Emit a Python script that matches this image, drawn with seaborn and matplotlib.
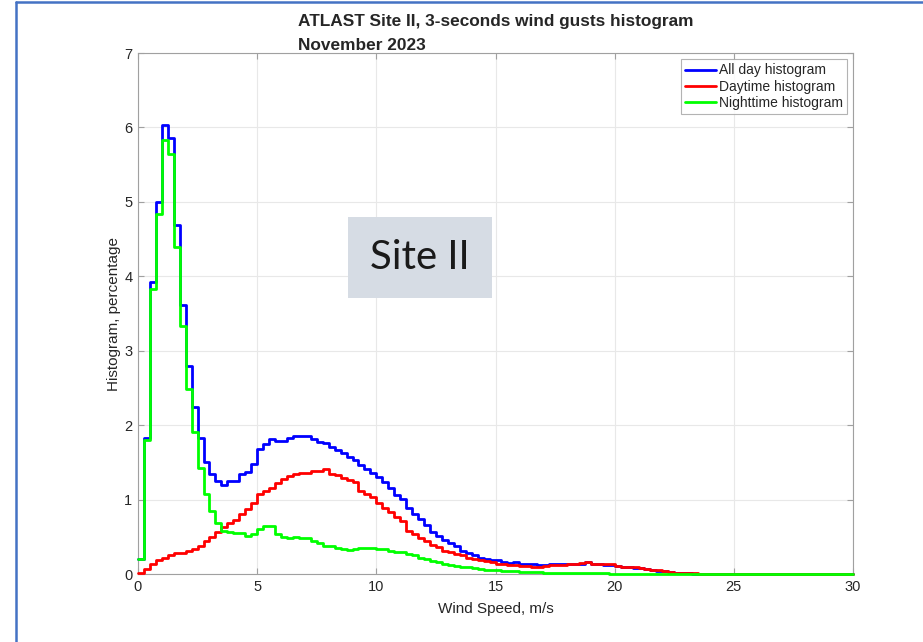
import numpy as np
import pandas as pd
import seaborn as sns
import matplotlib.pyplot as plt
from matplotlib.lines import Line2D

# histogram values in percent, 0.25 m/s bins from 0 to 30 m/s
all_day = [
    0.20, 1.83, 3.92, 5.00, 6.03, 5.86, 4.69, 3.61, 2.79, 2.25,
    1.83, 1.50, 1.35, 1.25, 1.19, 1.25, 1.25, 1.35, 1.37, 1.48,
    1.68, 1.75, 1.82, 1.79, 1.79, 1.83, 1.86, 1.86, 1.85, 1.82,
    1.78, 1.76, 1.71, 1.66, 1.62, 1.57, 1.53, 1.47, 1.41, 1.36,
    1.30, 1.23, 1.16, 1.06, 1.01, 0.89, 0.81, 0.74, 0.66, 0.57,
    0.51, 0.46, 0.41, 0.37, 0.31, 0.28, 0.25, 0.22, 0.20, 0.19,
    0.19, 0.16, 0.15, 0.16, 0.14, 0.13, 0.13, 0.12, 0.12, 0.13,
    0.13, 0.13, 0.13, 0.13, 0.14, 0.155, 0.135, 0.135, 0.125, 0.125,
    0.105, 0.095, 0.095, 0.085, 0.075, 0.065, 0.055, 0.045, 0.035, 0.025,
    0.015, 0.011, 0.007, 0.005, 0.004, 0.003, 0.002, 0.002, 0.001, 0.001,
    0.001, 0.001, 0.0, 0.0, 0.0, 0.0, 0.0, 0.0, 0.0, 0.0,
    0.0, 0.0, 0.0, 0.0, 0.0, 0.0, 0.0, 0.0, 0.0, 0.0,
]
daytime = [
    0.01, 0.07, 0.13, 0.19, 0.22, 0.25, 0.28, 0.28, 0.31, 0.34,
    0.38, 0.44, 0.50, 0.57, 0.63, 0.69, 0.72, 0.80, 0.87, 0.96,
    1.07, 1.11, 1.16, 1.22, 1.27, 1.32, 1.35, 1.36, 1.36, 1.38,
    1.39, 1.41, 1.35, 1.33, 1.29, 1.26, 1.23, 1.12, 1.07, 1.03,
    0.96, 0.89, 0.83, 0.76, 0.71, 0.58, 0.54, 0.49, 0.44, 0.39,
    0.36, 0.31, 0.29, 0.27, 0.25, 0.22, 0.20, 0.19, 0.17, 0.16,
    0.14, 0.13, 0.12, 0.12, 0.11, 0.11, 0.10, 0.10, 0.11, 0.12,
    0.12, 0.12, 0.13, 0.14, 0.15, 0.16, 0.14, 0.14, 0.13, 0.13,
    0.11, 0.10, 0.10, 0.09, 0.08, 0.07, 0.06, 0.05, 0.04, 0.03,
    0.02, 0.015, 0.01, 0.008, 0.006, 0.005, 0.004, 0.003, 0.002, 0.002,
    0.001, 0.001, 0.001, 0.001, 0.0, 0.0, 0.0, 0.0, 0.0, 0.0,
    0.0, 0.0, 0.0, 0.0, 0.0, 0.0, 0.0, 0.0, 0.0, 0.0,
]
nighttime = [
    0.20, 1.80, 3.83, 4.84, 5.83, 5.65, 4.40, 3.33, 2.48, 1.91,
    1.43, 1.07, 0.85, 0.69, 0.58, 0.57, 0.55, 0.55, 0.51, 0.54,
    0.60, 0.64, 0.64, 0.54, 0.50, 0.49, 0.50, 0.49, 0.48, 0.45,
    0.41, 0.38, 0.37, 0.35, 0.34, 0.32, 0.34, 0.35, 0.35, 0.35,
    0.34, 0.33, 0.31, 0.30, 0.29, 0.27, 0.25, 0.22, 0.20, 0.18,
    0.16, 0.14, 0.12, 0.11, 0.10, 0.09, 0.08, 0.07, 0.06, 0.055,
    0.05, 0.045, 0.04, 0.035, 0.03, 0.03, 0.025, 0.025, 0.02, 0.02,
    0.018, 0.016, 0.014, 0.012, 0.011, 0.010, 0.009, 0.008, 0.007, 0.006,
    0.005, 0.005, 0.004, 0.004, 0.003, 0.003, 0.003, 0.002, 0.002, 0.002,
    0.002, 0.001, 0.001, 0.001, 0.001, 0.001, 0.001, 0.001, 0.001, 0.001,
    0.0, 0.0, 0.0, 0.0, 0.0, 0.0, 0.0, 0.0, 0.0, 0.0,
    0.0, 0.0, 0.0, 0.0, 0.0, 0.0, 0.0, 0.0, 0.0, 0.0,
]
series_names = ['All day histogram', 'Daytime histogram', 'Nighttime histogram']
series_colors = ['#0000ff', '#ff0000', '#00ff00']

bin_width = 0.25
edges = np.arange(0, 30 + bin_width / 2, bin_width)

frames = []
for name, vals in zip(series_names, [all_day, daytime, nighttime]):
    # last edge repeats the last value so the steps reach 30 m/s
    y = list(vals) + [vals[-1]]
    frames.append(pd.DataFrame({'speed': edges, 'pct': y, 'series': name}))
df = pd.concat(frames, ignore_index=True)

sns.set_style('white')
plt.rcParams['font.family'] = ['Liberation Sans', 'DejaVu Sans']

fig = plt.figure(figsize=(9.23, 6.42), dpi=100)
ax = fig.add_axes([0.1495, 0.1059, 0.7747, 0.8115])

sns.lineplot(
    data=df, x='speed', y='pct', hue='series',
    palette=dict(zip(series_names, series_colors)),
    hue_order=series_names, estimator=None, sort=False,
    drawstyle='steps-post', linewidth=2.0, ax=ax, legend=False
)
for ln in ax.get_lines():
    ln.set_clip_on(False)
    ln.set_zorder(3)

ax.set_xlim(0, 30)
ax.set_ylim(0, 7)
ax.set_xticks(range(0, 31, 5))
ax.set_yticks(range(0, 8))
ax.grid(True, color='#e8e8e8', linewidth=0.8)
ax.set_axisbelow(True)
for sp in ax.spines.values():
    sp.set_visible(True)
    sp.set_color('#a0a0a0')
    sp.set_linewidth(0.8)
    sp.set_zorder(2.5)
ax.tick_params(direction='in', length=4, width=0.8, color='#a0a0a0',
               labelsize=10.5, labelcolor='#262626', top=True, right=True,
               bottom=True, left=True, pad=4)

ax.set_xlabel('Wind Speed, m/s', fontsize=11, color='#262626', labelpad=6)
ax.set_ylabel('Histogram, percentage', fontsize=11, color='#262626', labelpad=2)

ax.set_title('ATLAST Site II, 3-seconds wind gusts histogram\nNovember 2023',
             fontsize=12.4, fontweight='bold', loc='center', ha='center',
             multialignment='left', linespacing=1.8, pad=2)

handles = [Line2D([], [], color=c, linewidth=2.0) for c in series_colors]
leg = ax.legend(handles, series_names, loc='upper right', fontsize=10,
                frameon=True, fancybox=False, handlelength=2.2,
                handletextpad=0.2, borderpad=0.3, labelspacing=0.15,
                borderaxespad=0.45)
leg.get_frame().set_edgecolor('#a0a0a0')
leg.get_frame().set_linewidth(0.8)
leg.set_zorder(5)

ax.text(0.394, 0.607, 'Site II', transform=ax.transAxes, fontsize=29,
        ha='center', va='center', color='#1a1a1a', family=['Lato', 'DejaVu Sans'],
        bbox=dict(boxstyle='square,pad=0.55', facecolor='#d6dce4',
                  edgecolor='none'))

# blue frame from the original screenshot
fig.add_artist(Line2D([16 / 923, 16 / 923], [0, 1 - 2 / 642],
                      color='#4472c4', linewidth=1.8))
fig.add_artist(Line2D([16 / 923, 1], [1 - 2 / 642, 1 - 2 / 642],
                      color='#4472c4', linewidth=1.8))

fig.savefig('out.png', dpi=100)
